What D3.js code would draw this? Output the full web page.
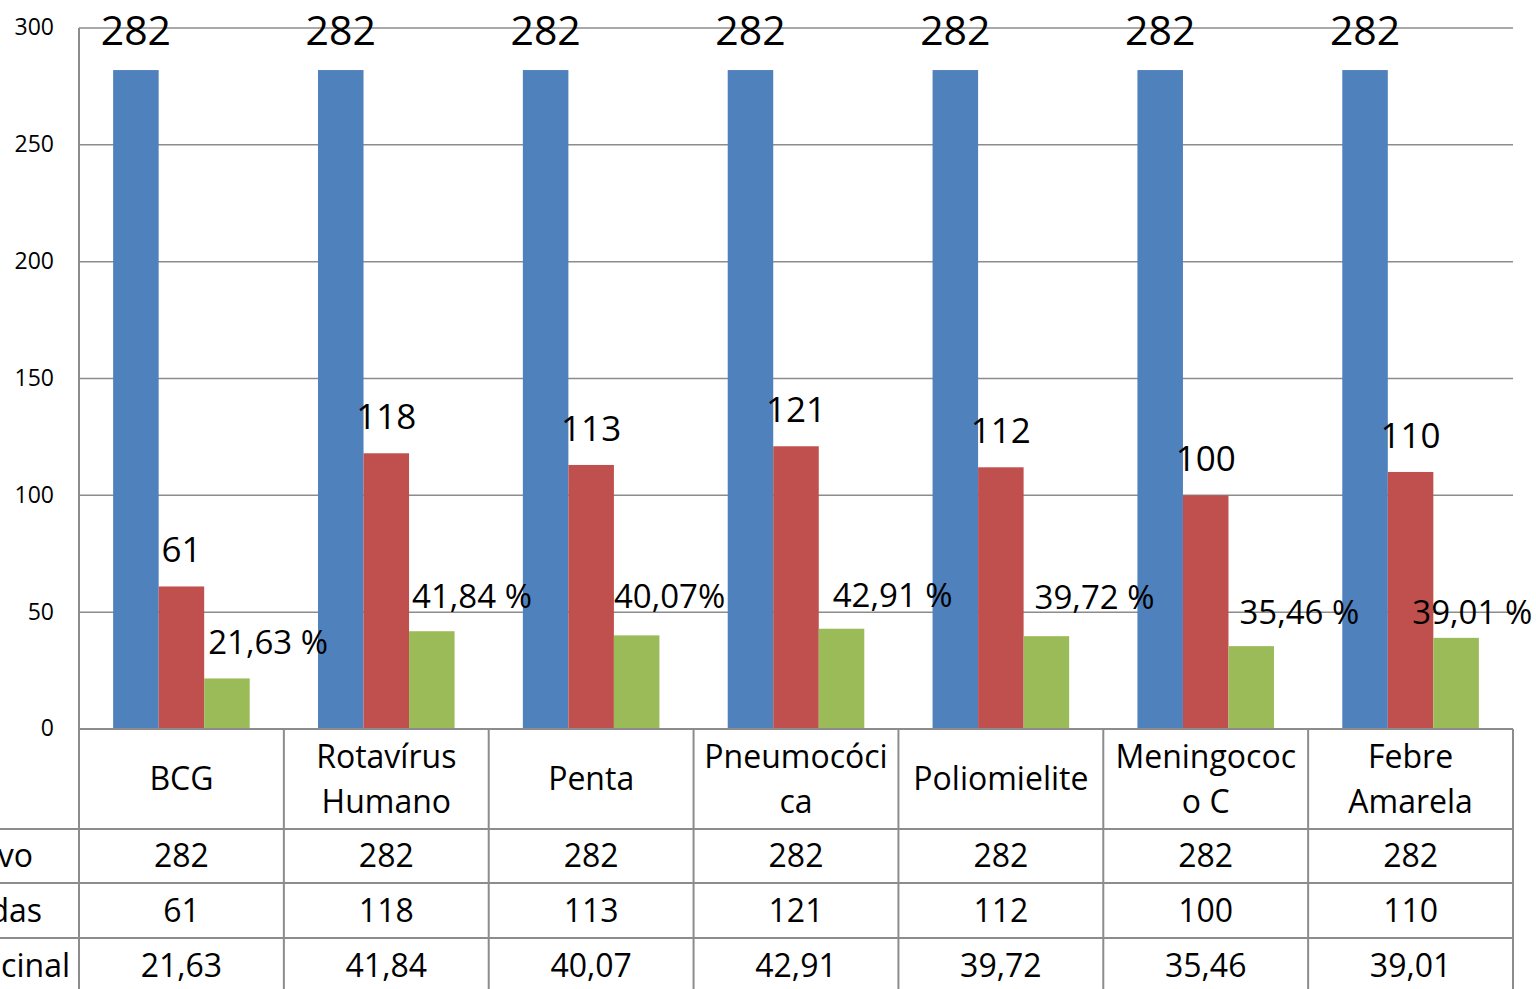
<!DOCTYPE html>
<html><head><meta charset="utf-8">
<script src="https://cdn.jsdelivr.net/npm/d3@7"></script>
<style>html,body{margin:0;padding:0;background:#fff;overflow:hidden}svg{display:block;font-family:"Open Sans",sans-serif}</style>
</head><body>
<svg id="c" width="1536" height="989"></svg>
<script>
const categories = ["BCG","Rotavírus Humano","Penta","Pneumocócica","Poliomielite","Meningococo C","Febre Amarela"];
const headerLines = [["BCG"],["Rotavírus","Humano"],["Penta"],["Pneumocóci","ca"],["Poliomielite"],["Meningococ","o C"],["Febre","Amarela"]];
const seriesNames = ["Público Alvo","Crianças Vacinadas","Cobertura Vacinal"];
const publicoAlvo = [282,282,282,282,282,282,282];
const vacinadas = [61,118,113,121,112,100,110];
const cobertura = [21.63,41.84,40.07,42.91,39.72,35.46,39.01];
const coberturaLabels = ["21,63 %","41,84 %","40,07%","42,91 %","39,72 %","35,46 %","39,01 %"];
const yTicks = [0,50,100,150,200,250,300];

// layout-only tweaks for the manually placed percentage labels
const pctDx = [4,3,0,14,11,11,-21];
const pctDy = [-24,-23,-27,-22,-27,-22,-14];
const rowLabelRight = [33,42,70];

const colors = ["#4F81BD","#C0504D","#9BBB59"];
const grid = "#8c8c8c";
const svg = d3.select("#c");
const L = 79, R = 1513, T = 28, B = 729;
const x0 = d3.scaleBand().domain(categories).range([L,R]).padding(0);
const x1 = d3.scaleBand().domain(seriesNames).range([0,x0.bandwidth()]).paddingInner(0).paddingOuter(0.75);
const y = d3.scaleLinear().domain([0,300]).range([B,T]);
const values = [publicoAlvo, vacinadas, cobertura];

// gridlines
svg.append("g").selectAll("line").data(yTicks.filter(t=>t>0)).join("line")
  .attr("x1",L).attr("x2",R).attr("y1",d=>y(d)).attr("y2",d=>y(d))
  .attr("stroke",grid).attr("stroke-width",1.5);

// y axis labels
const yAxis = d3.axisLeft(y).tickValues(yTicks).tickSize(0).tickPadding(25).tickFormat(d3.format("d"));
const ya = svg.append("g").attr("transform",`translate(${L},0)`).call(yAxis);
ya.select(".domain").remove();
ya.selectAll("text").attr("font-size",23).attr("font-family","Open Sans").attr("fill","#000").attr("dy","0.3em");

// bars
seriesNames.forEach((s,si)=>{
  svg.append("g").selectAll("rect").data(categories).join("rect")
    .attr("x",(c)=>x0(c)+x1(s)).attr("width",x1.bandwidth())
    .attr("y",(c,i)=>y(values[si][i])).attr("height",(c,i)=>B-y(values[si][i]))
    .attr("fill",colors[si]);
});

// value labels
svg.append("g").selectAll("text").data(categories).join("text")
  .attr("x",c=>x0(c)+x1(seriesNames[0])+x1.bandwidth()/2)
  .attr("y",(c,i)=>y(publicoAlvo[i])-25).attr("text-anchor","middle")
  .attr("font-size",41).text((c,i)=>publicoAlvo[i]);
svg.append("g").selectAll("text").data(categories).join("text")
  .attr("x",c=>x0(c)+x1(seriesNames[1])+x1.bandwidth()/2)
  .attr("y",(c,i)=>y(vacinadas[i])-24).attr("text-anchor","middle")
  .attr("font-size",35).text((c,i)=>vacinadas[i]);
svg.append("g").selectAll("text").data(categories).join("text")
  .attr("x",(c,i)=>x0(c)+x1(seriesNames[2])+pctDx[i])
  .attr("y",(c,i)=>y(cobertura[i])+pctDy[i]).attr("text-anchor","start")
  .attr("font-size",33).text((c,i)=>coberturaLabels[i]);

// data table
const rowsY = [729,829,883,938,993];
const tg = svg.append("g").attr("stroke",grid).attr("stroke-width",2);
tg.append("line").attr("x1",L).attr("x2",R).attr("y1",B).attr("y2",B);
[829,883,938].forEach(yy=>tg.append("line").attr("x1",0).attr("x2",R).attr("y1",yy).attr("y2",yy));
tg.append("line").attr("x1",L).attr("x2",L).attr("y1",T).attr("y2",989);
categories.forEach(c=>tg.append("line").attr("x1",x0(c)+x0.bandwidth()).attr("x2",x0(c)+x0.bandwidth()).attr("y1",B).attr("y2",989));

const hg = svg.append("g");
categories.forEach((c,i)=>{
  const lines = headerLines[i];
  const cx = x0(c)+x0.bandwidth()/2;
  const mid = 779;
  lines.forEach((ln,j)=>{
    hg.append("text").attr("x",cx).attr("y",mid + (j-(lines.length-1)/2)*45 + 11)
      .attr("text-anchor","middle").attr("font-size",32).text(ln);
  });
});
const fmt = v => String(v).replace(".",",");
const tableVals = [publicoAlvo.map(String), vacinadas.map(String), cobertura.map(v=>d3.format(".2f")(v).replace(".",","))];
tableVals.forEach((row,ri)=>{
  const cy = (rowsY[ri+1]+rowsY[ri+2])/2;
  svg.append("g").selectAll("text").data(categories).join("text")
    .attr("x",c=>x0(c)+x0.bandwidth()/2).attr("y",cy+11).attr("text-anchor","middle")
    .attr("font-size",32).text((c,i)=>row[i]);
  svg.append("text").attr("x",rowLabelRight[ri]).attr("y",cy+11).attr("text-anchor","end")
    .attr("font-size",32).text(seriesNames[ri]);
});
</script>
</body></html>
